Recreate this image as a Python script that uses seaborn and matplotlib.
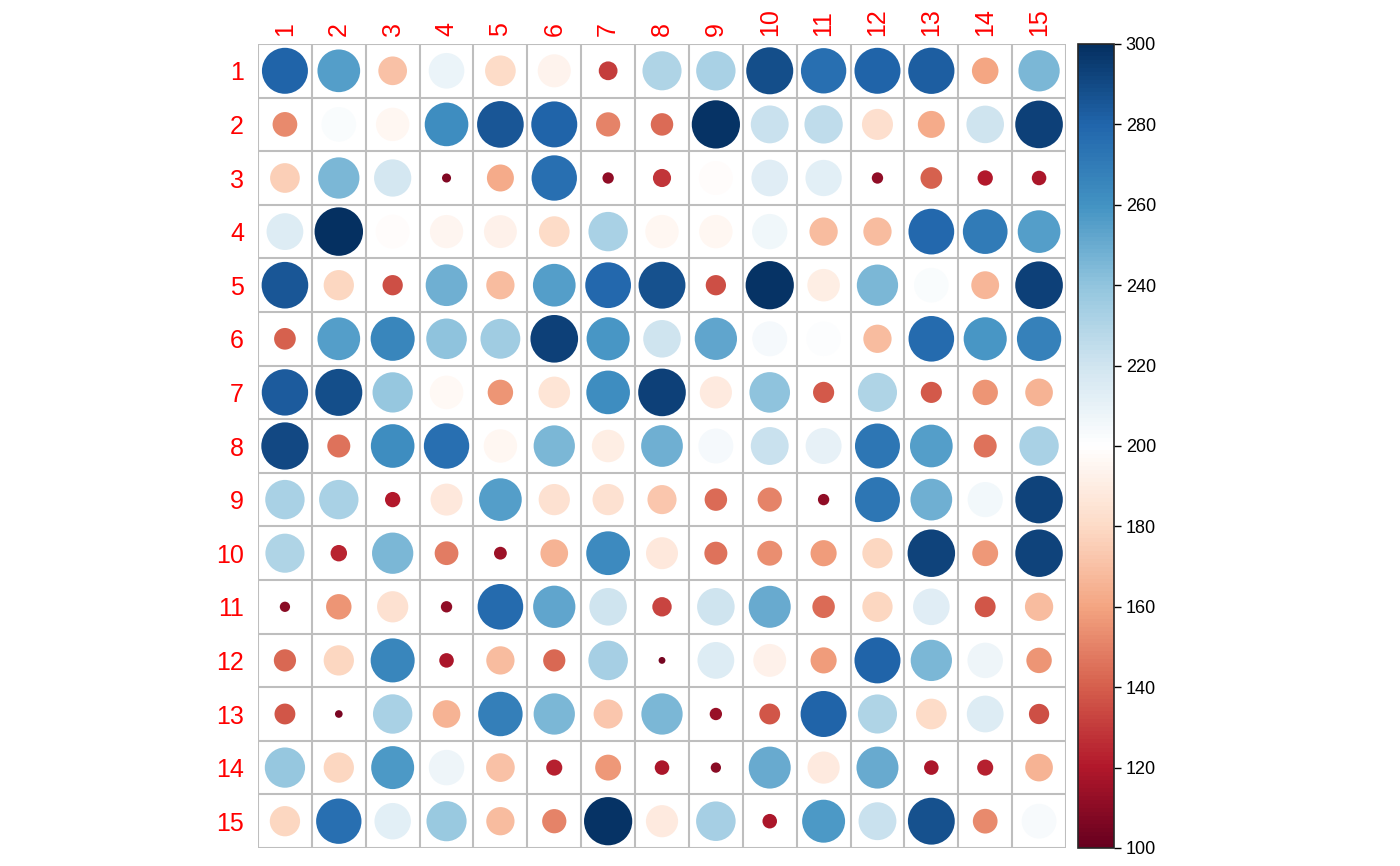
import numpy as np
import pandas as pd
import seaborn as sns
import matplotlib.pyplot as plt
from matplotlib.colors import LinearSegmentedColormap, Normalize
from matplotlib.cm import ScalarMappable

labels = [str(i) for i in range(1, 16)]

# matrix values, rows 1..15
row01 = [280, 255, 170, 208, 180, 193, 130, 230, 232, 288, 275, 280, 282, 160, 245]
row02 = [152, 202, 195, 262, 285, 280, 150, 143, 298, 222, 225, 182, 162, 220, 293]
row03 = [175, 245, 218, 107, 162, 275, 111, 128, 198, 214, 212, 111, 140, 120, 118]
row04 = [215, 300, 198, 194, 192, 180, 232, 195, 195, 206, 168, 168, 278, 270, 255]
row05 = [285, 178, 135, 248, 168, 255, 278, 287, 135, 298, 190, 245, 202, 166, 293]
row06 = [140, 255, 265, 240, 235, 293, 258, 220, 252, 204, 201, 168, 277, 258, 267]
row07 = [283, 288, 238, 196, 155, 185, 262, 293, 188, 240, 138, 230, 138, 155, 165]
row08 = [290, 145, 262, 275, 195, 245, 190, 248, 204, 222, 210, 272, 255, 145, 232]
row09 = [232, 232, 120, 187, 255, 183, 183, 172, 143, 150, 111, 272, 248, 205, 292]
row10 = [230, 123, 245, 148, 114, 165, 263, 187, 145, 153, 158, 178, 292, 157, 292]
row11 = [109, 155, 183, 111, 277, 252, 220, 132, 220, 250, 143, 178, 214, 137, 168]
row12 = [142, 178, 265, 118, 168, 142, 233, 104, 215, 192, 158, 280, 245, 207, 155]
row13 = [137, 105, 232, 165, 268, 245, 172, 245, 113, 137, 280, 230, 180, 215, 135]
row14 = [238, 178, 257, 207, 170, 122, 157, 118, 109, 250, 188, 250, 118, 122, 165]
row15 = [178, 275, 213, 237, 168, 150, 298, 188, 233, 118, 257, 222, 287, 152, 203]

rows = [row01, row02, row03, row04, row05, row06, row07, row08,
        row09, row10, row11, row12, row13, row14, row15]

vmin, vmax = 100, 300

# corrplot's RdBu ramp
col2 = ["#67001F", "#B2182B", "#D6604D", "#F4A582", "#FDDBC7", "#FFFFFF",
        "#D1E5F0", "#92C5DE", "#4393C3", "#2166AC", "#053061"]
cmap = LinearSegmentedColormap.from_list("col2", col2, N=200)

recs = []
for i, r in enumerate(rows):
    for j, v in enumerate(r):
        recs.append({"row": i + 1, "col": j + 1, "value": v})
df = pd.DataFrame(recs)

sns.set_style("white")
plt.rcParams["font.family"] = ["Liberation Sans", "DejaVu Sans"]

fig = plt.figure(figsize=(14, 8.66), dpi=100)
ax = fig.add_axes([258 / 1400, 1 - 848 / 866, 808 / 1400, 804 / 866])

# circle area grows linearly with scaled value; max radius 0.45 cell
cell_pt = 808 / 15 / 100 * 72
smax = (0.9 * cell_pt) ** 2
sns.scatterplot(data=df, x="col", y="row", hue="value", size="value",
                palette=cmap, hue_norm=(vmin, vmax),
                sizes=(0, smax), size_norm=(vmin, vmax),
                linewidth=0, legend=False, ax=ax, zorder=3)

for k in range(16):
    ax.axvline(k + 0.5, color="#BEBEBE", lw=1.5, zorder=1)
    ax.axhline(k + 0.5, color="#BEBEBE", lw=1.5, zorder=1)

ax.set_xlim(0.5, 15.5)
ax.set_ylim(15.5, 0.5)
ax.set_xticks(range(1, 16))
ax.set_yticks(range(1, 16))
ax.set_xticklabels(labels, rotation=90, color="red", fontsize=18)
ax.set_yticklabels(labels, color="red", fontsize=18)
ax.xaxis.tick_top()
ax.tick_params(axis="both", length=0)
ax.tick_params(axis="x", pad=6)
ax.tick_params(axis="y", pad=10)
ax.set_xlabel("")
ax.set_ylabel("")
for s in ax.spines.values():
    s.set_visible(False)

cax = fig.add_axes([1078 / 1400, 1 - 848 / 866, 36 / 1400, 804 / 866])
sm = ScalarMappable(norm=Normalize(vmin, vmax), cmap=cmap)
cb = fig.colorbar(sm, cax=cax)
cb.set_ticks(range(100, 301, 20))
cb.ax.tick_params(labelsize=13, length=5, width=1, colors="black")
cb.outline.set_linewidth(1.2)

fig.savefig("out.png", dpi=100)
